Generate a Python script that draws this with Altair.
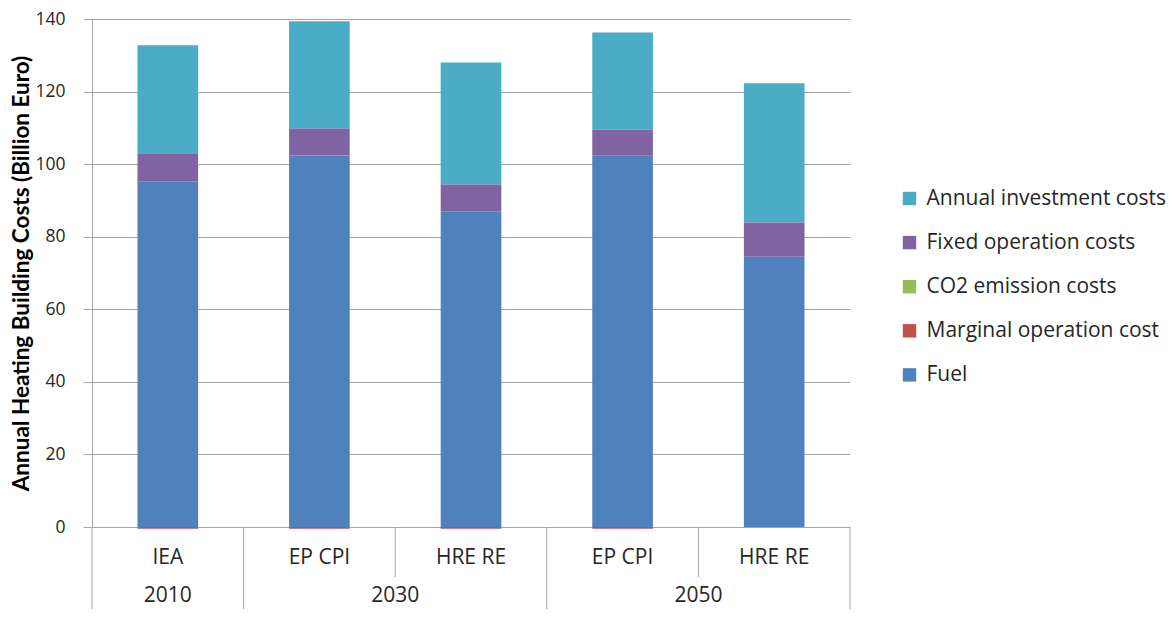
import altair as alt
import pandas as pd

# ---- data ----
groups = ["2010", "2030", "2030", "2050", "2050"]
scenarios = ["IEA", "EP CPI", "HRE RE", "EP CPI", "HRE RE"]
series = ["Annual investment costs", "Fixed operation costs", "CO2 emission costs",
          "Marginal operation cost", "Fuel"]
colors = ["#4BACC6", "#8064A2", "#9BBB59", "#C0504D", "#4F81BD"]
stack_order = [4, 3, 2, 1, 0]  # bottom-to-top: Fuel, Marginal, CO2, Fixed, Annual

fuel = [95.3, 102.4, 87.0, 102.3, 74.5]
marginal = [-0.5, -0.5, -0.5, -0.5, 0.0]
co2 = [0.0, 0.0, 0.0, 0.0, 0.0]
fixed = [7.5, 7.4, 7.4, 7.2, 9.4]
annual = [30.0, 29.6, 33.6, 26.8, 38.4]

y_ticks = [0, 20, 40, 60, 80, 100, 120, 140]

FONT = "Open Sans"
TFONT = "Lato"
GRID = "#A6A6A6"
TEXT = "#262626"
W, H = 758, 508
PAD_L, PAD_T, PAD_B = 84, 11, 82
PAD_R = 1158 - PAD_L - W

keys = [f"{g} {s}" for g, s in zip(groups, scenarios)]
values_by_series = dict(zip(series, [annual, fixed, co2, marginal, fuel]))

rows = []
for si, name in enumerate(series):
    for i, k in enumerate(keys):
        rows.append({"key": k, "series": name, "value": values_by_series[name][i],
                     "order": stack_order[si]})
df = pd.DataFrame(rows)

# axis overlay tables (category boundaries / label centres on a 0..n scale)
n = len(keys)
sep_full = [0] + [i for i in range(1, n) if groups[i] != groups[i - 1]] + [n]
sep_short = [i for i in range(1, n) if groups[i] == groups[i - 1]]
scen_df = pd.DataFrame({"pos": [i + 0.5 for i in range(n)], "label": scenarios})
grp_names, grp_pos = [], []
for g in dict.fromkeys(groups):
    idx = [i for i, gg in enumerate(groups) if gg == g]
    grp_names.append(g)
    grp_pos.append((min(idx) + max(idx) + 1) / 2)
grp_df = pd.DataFrame({"pos": grp_pos, "label": grp_names})

bars = alt.Chart(df).mark_bar().encode(
    x=alt.X("key:N", sort=keys, axis=None,
            scale=alt.Scale(paddingInner=0.6, paddingOuter=0.3)),
    y=alt.Y("sum(value):Q", stack="zero",
            scale=alt.Scale(domain=[0, 140], nice=False),
            axis=alt.Axis(values=y_ticks, title="Annual Heating Building Costs (Billion Euro)",
                          titleFont=TFONT, titleFontSize=22.5, titleFontWeight="bold",
                          titleColor="#000000", titlePadding=1,
                          labelFont=FONT, labelFontSize=17.5, labelColor=TEXT,
                          labelPadding=18, tickSize=9, tickColor=GRID,
                          domainColor=GRID, gridColor=GRID, gridWidth=1)),
    color=alt.Color("series:N", scale=alt.Scale(domain=series, range=colors),
                    legend=alt.Legend(orient="none", legendX=807, legendY=169, title=None,
                                      labelFont=FONT, labelFontSize=21, labelColor=TEXT,
                                      labelLimit=400,
                                      symbolType="square", symbolSize=180,
                                      symbolStrokeWidth=0, rowPadding=22.1,
                                      labelOffset=6.5, padding=0)),
    order=alt.Order("order:Q", sort="ascending"),
)

xq = alt.X("pos:Q", scale=alt.Scale(domain=[0, n], nice=False, zero=True), axis=None)

full_rules = alt.Chart(pd.DataFrame({"pos": sep_full})).mark_rule(color=GRID, strokeWidth=1).encode(
    x=xq, y=alt.value(H), y2=alt.value(H + PAD_B))
short_rules = alt.Chart(pd.DataFrame({"pos": sep_short})).mark_rule(color=GRID, strokeWidth=1).encode(
    x=xq, y=alt.value(H), y2=alt.value(H + 50))
scen_text = alt.Chart(scen_df).mark_text(font=FONT, fontSize=21, color=TEXT, baseline="middle").encode(
    x=xq, y=alt.value(H + 31), text="label:N")
grp_text = alt.Chart(grp_df).mark_text(font=FONT, fontSize=21, color=TEXT, baseline="middle").encode(
    x=xq, y=alt.value(H + 69), text="label:N")

chart = alt.layer(bars, full_rules, short_rules, scen_text, grp_text).resolve_scale(
    x="independent"
).properties(
    width=W, height=H,
    autosize=alt.AutoSizeParams(type="none"),
    padding={"left": PAD_L, "top": PAD_T, "right": PAD_R, "bottom": PAD_B},
).configure_view(stroke=None)

chart.save("out.html", embed_options={"renderer": "svg", "actions": False})
